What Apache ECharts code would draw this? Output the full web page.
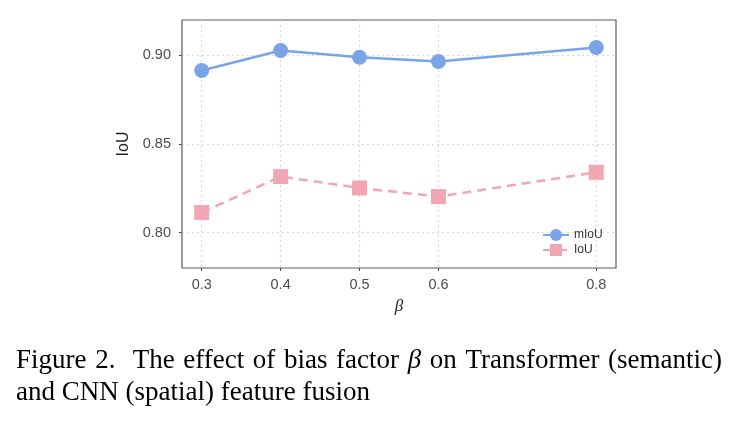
<!DOCTYPE html>
<html>
<head>
<meta charset="utf-8">
<script src="https://cdn.jsdelivr.net/npm/echarts@6/dist/echarts.min.js"></script>
<style>
  html, body { margin: 0; padding: 0; background: #fff; }
  #main { width: 740px; height: 422px; }
</style>
</head>
<body>
<div id="main"></div>
<script>
// beta values on the x axis
const betas = [0.3, 0.4, 0.5, 0.6, 0.8];
const miouValues = [0.8915, 0.9028, 0.8990, 0.8966, 0.9045];
const iouValues = [0.8113, 0.8316, 0.8252, 0.8203, 0.8340];
const yTicks = [0.80, 0.85, 0.90];
const captionLine1 = ['Figure', '2.', '', 'The', 'effect', 'of', 'bias', 'factor', 'β', 'on', 'Transformer', '(semantic)'];
const captionLine2 = 'and CNN (spatial) feature fusion';

const chart = echarts.init(document.getElementById('main'));

const sans = 'Liberation Sans';
const serif = 'Liberation Serif';
const capSize = 27;

// justify the first caption line between x=16 and x=722, like the paper
const ctx = document.createElement('canvas').getContext('2d');
function wordFont(w) {
  return (w === 'β' ? 'italic ' : '') + capSize + 'px "' + serif + '"';
}
let natural = 0;
captionLine1.forEach(w => { ctx.font = wordFont(w); natural += ctx.measureText(w).width; });
const gaps = captionLine1.length - 1;
const gapW = (722 - 16 - natural) / gaps;
let cx = 16;
const captionItems = [];
captionLine1.forEach(w => {
  ctx.font = wordFont(w);
  if (w) {
    captionItems.push({
      type: 'text', x: cx, y: 347,
      style: {
        text: w, fontFamily: serif, fontSize: capSize, fill: '#000',
        fontStyle: w === 'β' ? 'italic' : 'normal'
      }
    });
  }
  cx += ctx.measureText(w).width + gapW;
});
captionItems.push({
  type: 'text', x: 16, y: 379,
  style: { text: captionLine2, fontFamily: serif, fontSize: capSize, fill: '#000' }
});

chart.setOption({
  backgroundColor: '#fff',
  animation: false,
  grid: {
    left: 182, right: 124, top: 20, bottom: 154,
    show: true, borderColor: '#5a5a5a', borderWidth: 1.2,
    outerBoundsMode: 'none'
  },
  legend: {
    orient: 'vertical',
    left: 537, top: 224,
    itemWidth: 26, itemHeight: 15, itemGap: 3,
    textStyle: { fontFamily: sans, fontSize: 12, color: '#333' },
    data: ['mIoU', 'IoU']
  },
  xAxis: {
    type: 'value',
    min: 0.275, max: 0.825,
    name: 'β',
    nameLocation: 'middle',
    nameGap: 30,
    nameTextStyle: { fontFamily: serif, fontStyle: 'italic', fontSize: 17, color: '#222' },
    axisLine: { show: false },
    axisTick: { show: true, length: 3, inside: false, lineStyle: { color: '#444' }, customValues: betas },
    axisLabel: {
      margin: 9, fontFamily: sans, fontSize: 14.5, color: '#4d4d4d',
      customValues: betas,
      formatter: v => v.toFixed(1)
    },
    splitLine: { show: true, lineStyle: { color: '#d9d9d9', type: [2, 3], width: 1.2 } }
  },
  yAxis: {
    type: 'value',
    min: 0.78, max: 0.92,
    name: 'IoU',
    nameLocation: 'middle',
    nameGap: 46,
    nameTextStyle: { fontFamily: sans, fontSize: 16, color: '#222' },
    axisLine: { show: false },
    axisTick: { show: true, length: 3, lineStyle: { color: '#444' }, customValues: yTicks },
    axisLabel: {
      margin: 11, fontFamily: sans, fontSize: 14.5, color: '#4d4d4d',
      customValues: yTicks,
      formatter: v => v.toFixed(2)
    },
    splitLine: { show: true, lineStyle: { color: '#d9d9d9', type: [2, 3], width: 1.2 } }
  },
  series: [
    {
      name: 'mIoU',
      type: 'line',
      data: betas.map((b, i) => [b, miouValues[i]]),
      symbol: 'circle',
      symbolSize: 15,
      itemStyle: { color: '#7ba3e8' },
      lineStyle: { color: '#7ba3e8', width: 2.5 }
    },
    {
      name: 'IoU',
      type: 'line',
      data: betas.map((b, i) => [b, iouValues[i]]),
      symbol: 'rect',
      symbolSize: 15,
      itemStyle: { color: '#f2a6b4' },
      lineStyle: { color: '#f2a6b4', width: 2.5, type: [9, 6] }
    }
  ],
  graphic: captionItems
});
</script>
</body>
</html>
